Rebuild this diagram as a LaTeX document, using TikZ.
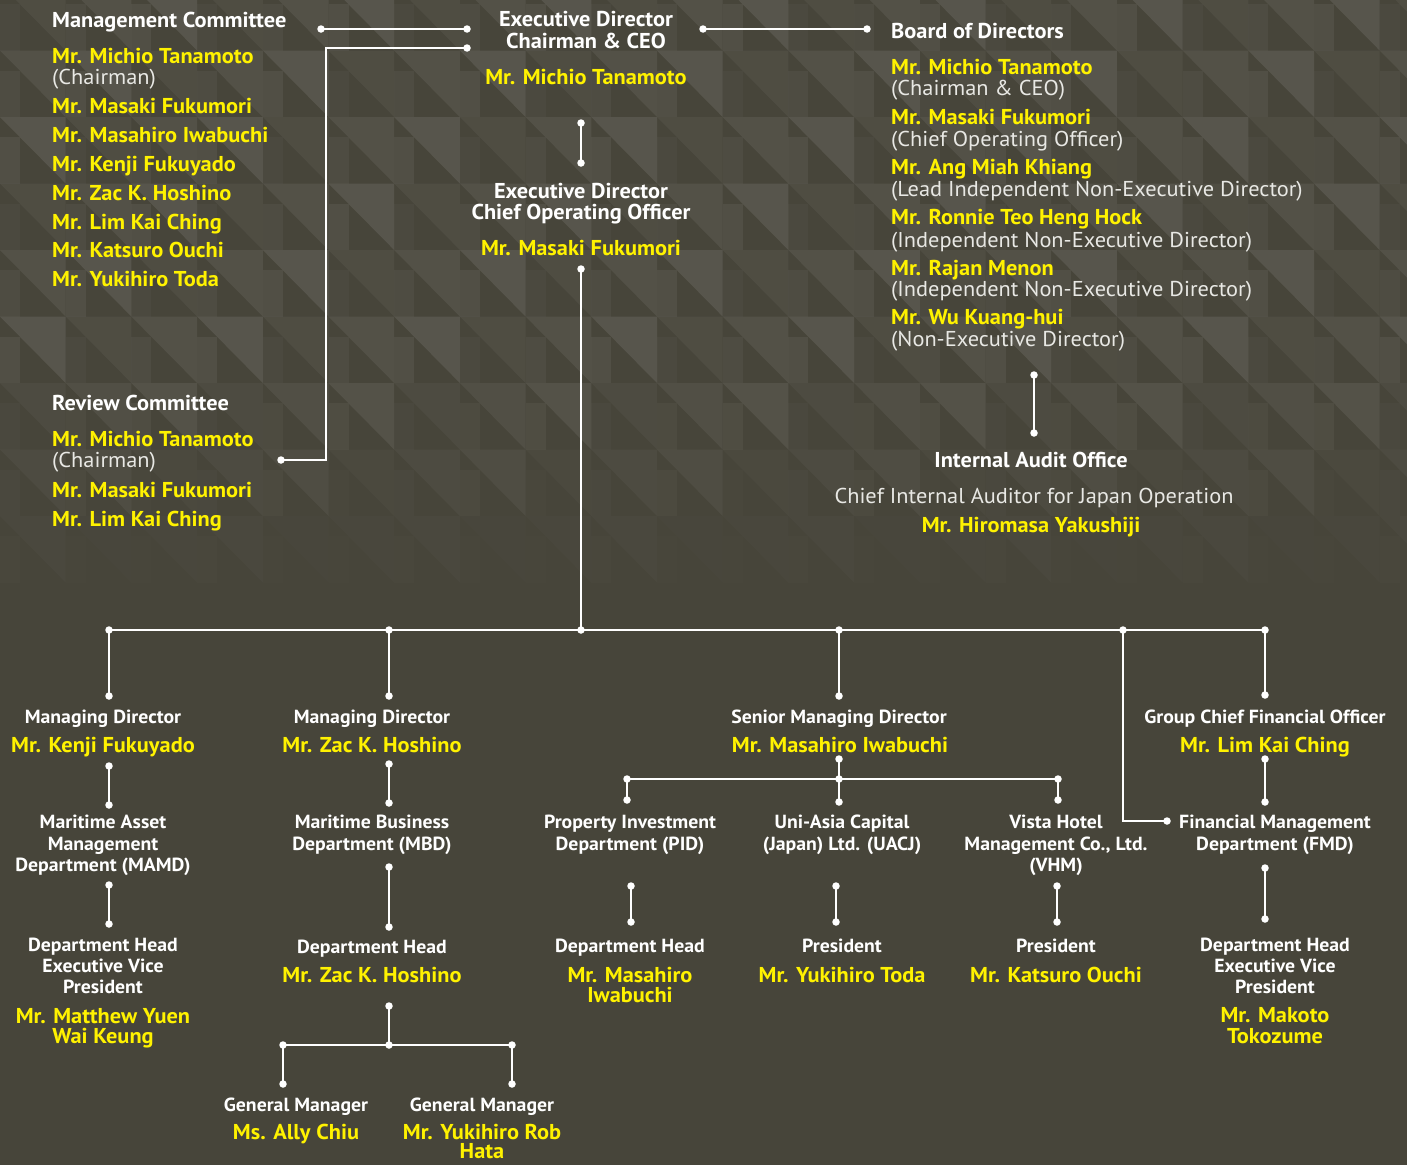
\documentclass[tikz,border=0pt]{standalone}
\usepackage{fontspec}
\setmainfont{PT Sans}[FakeStretch=1.04]
\definecolor{bg}{HTML}{47453A}
\definecolor{pat}{HTML}{64625A}
\definecolor{ylw}{HTML}{FFF200}
\definecolor{ltxt}{HTML}{E8E8E4}
\tikzset{
  hd/.style={text=white,font=\bfseries\fontsize{21.5}{24}\selectfont,inner sep=0pt},
  nm/.style={text=ylw,font=\bfseries\fontsize{21.5}{24}\selectfont,inner sep=0pt},
  nt/.style={text=ltxt,font=\fontsize{21.5}{24}\selectfont,inner sep=0pt},
  sh/.style={text=white,font=\bfseries\fontsize{19}{21}\selectfont,inner sep=0pt},
  sn/.style={text=ylw,font=\bfseries\fontsize{21.5}{24}\selectfont,inner sep=0pt},
  dot/.style={circle,fill=white,draw=none,inner sep=0pt,minimum size=7.5pt},
  conn/.style={draw=white,line width=2pt}
}
\begin{document}
\begin{tikzpicture}[x=1pt,y=-1pt]
\useasboundingbox (0,0) rectangle (1407,1165);
\fill[bg] (0,0) rectangle (1407,1165);
% background texture
\foreach \i in {0,...,21}{
  \foreach \j in {0,...,9}{
    \pgfmathsetmacro\xa{\i*65.7}
    \pgfmathsetmacro\ya{-16+\j*66.5}
    \pgfmathsetmacro\op{max(0,min(1,(600-\ya-33)/230))*(0.28+0.15*mod(\i+\j,3))}
    \fill[pat,opacity=\op] (\xa,\ya) -- (\xa+65.7,\ya) -- (\xa+65.7,\ya+66.5) -- cycle;
    \fill[pat,opacity=\op*0.6] (\xa,\ya+20) -- (\xa+20,\ya+20) -- (\xa+20,\ya+66.5) -- (\xa,\ya+66.5) -- cycle;
  }
}
% ---------- Management committee
\node[hd,anchor=base west] (mch) at (52,27) {Management Committee};
\node[nm,anchor=base west] (mc1) at (52,63) {Mr. Michio Tanamoto};
\node[nt,anchor=base west] (mc1r) at (52,84) {(Chairman)};
\node[nm,anchor=base west] (mc2) at (52,113) {Mr. Masaki Fukumori};
\node[nm,anchor=base west] (mc3) at (52,142) {Mr. Masahiro Iwabuchi};
\node[nm,anchor=base west] (mc4) at (52,171) {Mr. Kenji Fukuyado};
\node[nm,anchor=base west] (mc5) at (52,200) {Mr. Zac K. Hoshino};
\node[nm,anchor=base west] (mc6) at (52,229) {Mr. Lim Kai Ching};
\node[nm,anchor=base west] (mc7) at (52,257) {Mr. Katsuro Ouchi};
\node[nm,anchor=base west] (mc8) at (52,286) {Mr. Yukihiro Toda};
% ---------- Review committee
\node[hd,anchor=base west] (rch) at (52,410) {Review Committee};
\node[nm,anchor=base west] (rc1) at (52,446) {Mr. Michio Tanamoto};
\node[nt,anchor=base west] (rc1r) at (52,467) {(Chairman)};
\node[nm,anchor=base west] (rc2) at (52,497) {Mr. Masaki Fukumori};
\node[nm,anchor=base west] (rc3) at (52,526) {Mr. Lim Kai Ching};
% ---------- CEO / COO
\node[hd,anchor=base] (ceo1) at (586,26) {Executive Director};
\node[hd,anchor=base] (ceo2) at (586,48) {Chairman \& CEO};
\node[nm,anchor=base] (ceon) at (586,84) {Mr. Michio Tanamoto};
\node[hd,anchor=base] (coo1) at (581,198) {Executive Director};
\node[hd,anchor=base] (coo2) at (581,219) {Chief Operating Officer};
\node[nm,anchor=base] (coon) at (581,255) {Mr. Masaki Fukumori};
% ---------- Board
\node[hd,anchor=base west] (bdh) at (891,38) {Board of Directors};
\node[nm,anchor=base west] (b1) at (891,74) {Mr. Michio Tanamoto};
\node[nt,anchor=base west] (b1r) at (891,95) {(Chairman \& CEO)};
\node[nm,anchor=base west] (b2) at (891,124) {Mr. Masaki Fukumori};
\node[nt,anchor=base west] (b2r) at (891,146) {(Chief Operating Officer)};
\node[nm,anchor=base west] (b3) at (891,174) {Mr. Ang Miah Khiang};
\node[nt,anchor=base west] (b3r) at (891,196) {(Lead Independent Non-Executive Director)};
\node[nm,anchor=base west] (b4) at (891,224) {Mr. Ronnie Teo Heng Hock};
\node[nt,anchor=base west] (b4r) at (891,247) {(Independent Non-Executive Director)};
\node[nm,anchor=base west] (b5) at (891,275) {Mr. Rajan Menon};
\node[nt,anchor=base west] (b5r) at (891,296) {(Independent Non-Executive Director)};
\node[nm,anchor=base west] (b6) at (891,324) {Mr. Wu Kuang-hui};
\node[nt,anchor=base west] (b6r) at (891,346) {(Non-Executive Director)};
% ---------- Internal audit
\node[hd,anchor=base] (iah) at (1031,467) {Internal Audit Office};
\node[nt,anchor=base] (iat) at (1034,503) {Chief Internal Auditor for Japan Operation};
\node[nm,anchor=base] (ian) at (1031,532) {Mr. Hiromasa Yakushiji};
% ---------- Column 1
\node[sh,anchor=base] (k1h) at (103,723) {Managing Director};
\node[sn,anchor=base] (k1n) at (103,752) {Mr. Kenji Fukuyado};
\node[sh,anchor=base] (k1d1) at (103,828) {Maritime Asset};
\node[sh,anchor=base] (k1d2) at (103,850) {Management};
\node[sh,anchor=base] (k1d3) at (103,871) {Department (MAMD)};
\node[sh,anchor=base] (k1e1) at (103,951) {Department Head};
\node[sh,anchor=base] (k1e2) at (103,972) {Executive Vice};
\node[sh,anchor=base] (k1e3) at (103,993) {President};
\node[sn,anchor=base] (k1f1) at (103,1023) {Mr. Matthew Yuen};
\node[sn,anchor=base] (k1f2) at (103,1043) {Wai Keung};
% ---------- Column 2
\node[sh,anchor=base] (k2h) at (372,723) {Managing Director};
\node[sn,anchor=base] (k2n) at (372,752) {Mr. Zac K. Hoshino};
\node[sh,anchor=base] (k2d1) at (372,828) {Maritime Business};
\node[sh,anchor=base] (k2d2) at (372,850) {Department (MBD)};
\node[sh,anchor=base] (k2e) at (372,953) {Department Head};
\node[sn,anchor=base] (k2f) at (372,982) {Mr. Zac K. Hoshino};
\node[sh,anchor=base] (g1h) at (296,1111) {General Manager};
\node[sn,anchor=base] (g1n) at (296,1139) {Ms. Ally Chiu};
\node[sh,anchor=base] (g2h) at (482,1111) {General Manager};
\node[sn,anchor=base] (g2n1) at (482,1139) {Mr. Yukihiro Rob};
\node[sn,anchor=base] (g2n2) at (482,1158) {Hata};
% ---------- Column 3
\node[sh,anchor=base] (k3h) at (839,723) {Senior Managing Director};
\node[sn,anchor=base] (k3n) at (840,752) {Mr. Masahiro Iwabuchi};
\node[sh,anchor=base] (p1a) at (630,828) {Property Investment};
\node[sh,anchor=base] (p1b) at (630,850) {Department (PID)};
\node[sh,anchor=base] (p2a) at (630,952) {Department Head};
\node[sn,anchor=base] (p2b) at (630,982) {Mr. Masahiro};
\node[sn,anchor=base] (p2c) at (630,1002) {Iwabuchi};
\node[sh,anchor=base] (u1a) at (842,828) {Uni-Asia Capital};
\node[sh,anchor=base] (u1b) at (842,850) {(Japan) Ltd. (UACJ)};
\node[sh,anchor=base] (u2a) at (842,952) {President};
\node[sn,anchor=base] (u2b) at (842,982) {Mr. Yukihiro Toda};
\node[sh,anchor=base] (v1a) at (1056,828) {Vista Hotel};
\node[sh,anchor=base] (v1b) at (1056,850) {Management Co., Ltd.};
\node[sh,anchor=base] (v1c) at (1056,871) {(VHM)};
\node[sh,anchor=base] (v2a) at (1056,952) {President};
\node[sn,anchor=base] (v2b) at (1056,982) {Mr. Katsuro Ouchi};
% ---------- Column 5
\node[sh,anchor=base] (k5h) at (1265,723) {Group Chief Financial Officer};
\node[sn,anchor=base] (k5n) at (1265,752) {Mr. Lim Kai Ching};
\node[sh,anchor=base] (k5d1) at (1275,828) {Financial Management};
\node[sh,anchor=base] (k5d2) at (1275,850) {Department (FMD)};
\node[sh,anchor=base] (k5e1) at (1275,951) {Department Head};
\node[sh,anchor=base] (k5e2) at (1275,972) {Executive Vice};
\node[sh,anchor=base] (k5e3) at (1275,993) {President};
\node[sn,anchor=base] (k5f1) at (1275,1022) {Mr. Makoto};
\node[sn,anchor=base] (k5f2) at (1275,1043) {Tokozume};
% ---------- dots
\foreach \n/\x/\y in {d1/321/29,d2/467/29,d3/467/48,d4/281/460,d5/703/29,d6/867/29,
  d7/581/123,d8/581/163,d9/581/269,d10/1034/375,d11/1034/433,
  t1/109/630,t2/389/630,t3/581/630,t4/839/630,t5/1123/630,t6/1265/630,
  e1/109/696,e2/389/696,e3/839/696,e4/1265/695,f1/1167/821,
  c1a/109/766,c1b/109/805,c1c/109/885,c1d/109/924,
  c2a/389/764,c2b/389/803,c2c/389/867,c2d/389/927,c2e/389/1006,c2f/389/1045,
  c2g/283/1045,c2h/512/1045,c2i/283/1084,c2j/512/1084,
  c3a/839/759,c3b/839/779,c3c/627/779,c3d/1058/779,c3e/627/800,c3f/839/802,c3g/1058/800,
  p1/631/886,p2/631/922,u1/836/886,u2/836/922,v1/1057/886,v2/1057/922,
  c5a/1265/759,c5b/1265/802,c5c/1265/868,c5d/1265/919}
  {\node[dot] (\n) at (\x,\y) {};}
\coordinate (k1) at (326,48);
\coordinate (k2) at (326,460);
\coordinate (k3) at (1123,821);
% ---------- connectors
\draw[conn] (d1.center) -- (d2.center);
\draw[conn] (d3.center) -- (k1) -- (k2) -- (d4.center);
\draw[conn] (d5.center) -- (d6.center);
\draw[conn] (d7.center) -- (d8.center);
\draw[conn] (d9.center) -- (t3.center);
\draw[conn] (d10.center) -- (d11.center);
\draw[conn] (t1.center) -- (t6.center);
\draw[conn] (t1.center) -- (e1.center);
\draw[conn] (t2.center) -- (e2.center);
\draw[conn] (t4.center) -- (e3.center);
\draw[conn] (t6.center) -- (e4.center);
\draw[conn] (t5.center) -- (k3) -- (f1.center);
\draw[conn] (c1a.center) -- (c1b.center);
\draw[conn] (c1c.center) -- (c1d.center);
\draw[conn] (c2a.center) -- (c2b.center);
\draw[conn] (c2c.center) -- (c2d.center);
\draw[conn] (c2e.center) -- (c2f.center);
\draw[conn] (c2g.center) -- (c2h.center);
\draw[conn] (c2g.center) -- (c2i.center);
\draw[conn] (c2h.center) -- (c2j.center);
\draw[conn] (c3a.center) -- (c3b.center);
\draw[conn] (c3c.center) -- (c3d.center);
\draw[conn] (c3c.center) -- (c3e.center);
\draw[conn] (c3b.center) -- (c3f.center);
\draw[conn] (c3d.center) -- (c3g.center);
\draw[conn] (p1.center) -- (p2.center);
\draw[conn] (u1.center) -- (u2.center);
\draw[conn] (v1.center) -- (v2.center);
\draw[conn] (c5a.center) -- (c5b.center);
\draw[conn] (c5c.center) -- (c5d.center);
\end{tikzpicture}
\end{document}
